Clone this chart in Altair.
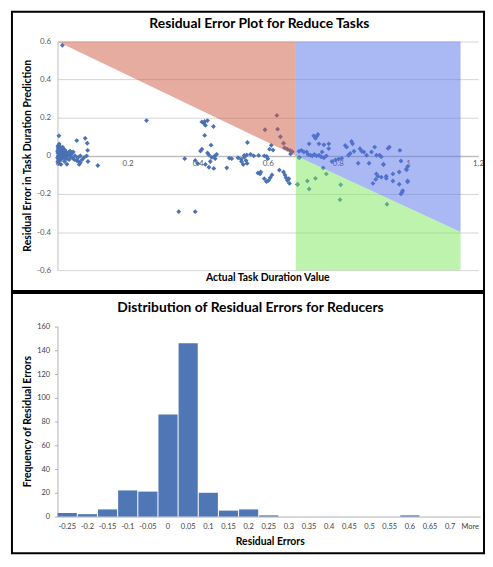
import altair as alt
import pandas as pd

# ---------------- data: residual scatter ----------------
near_zero_x = [0.014, 0.004, 0.001, 0.002, 0.003, 0.004, 0.005, 0.006, 0.002, 0.003,
               0.001, 0.004, 0.007, 0.008, 0.009, 0.010, 0.011, 0.012, 0.008, 0.006,
               0.009, 0.013, 0.015, 0.016, 0.014, 0.018, 0.020, 0.022, 0.024, 0.019,
               0.017, 0.021, 0.025, 0.028, 0.030, 0.026, 0.003, 0.005, 0.001, 0.002,
               0.000, 0.000, 0.010, 0.012, 0.006, 0.015, 0.032, 0.035, 0.038, 0.040,
               0.020, 0.027, 0.045, 0.042, 0.050, 0.048, 0.055, 0.060, 0.065, 0.058,
               0.055, 0.062, 0.070, 0.075, 0.065, 0.079, 0.085, 0.086, 0.083, 0.087,
               0.115, 0.010, 0.033, 0.036]
near_zero_y = [0.58, 0.105, 0.05, 0.04, 0.03, 0.02, 0.01, 0.0, -0.01, -0.02,
               -0.03, -0.04, 0.045, 0.035, 0.025, 0.015, 0.005, -0.005, -0.015, -0.025,
               0.03, 0.02, 0.01, 0.0, -0.01, 0.025, 0.015, 0.005, -0.005, -0.012,
               0.035, 0.03, 0.02, 0.01, 0.0, -0.015, 0.055, 0.062, 0.015, 0.0,
               0.025, -0.01, -0.02, 0.04, 0.05, 0.045, 0.015, 0.005, -0.005, 0.01,
               -0.03, -0.044, 0.02, -0.01, 0.0, -0.02, -0.025, -0.03, -0.035, -0.01,
               0.08, -0.045, -0.02, -0.01, 0.0, 0.092, 0.066, 0.029, 0.0, -0.03,
               -0.051, -0.045, -0.02, 0.025]

mid_x = [0.254, 0.346, 0.393, 0.363, 0.393, 0.408, 0.412, 0.412, 0.420, 0.428,
         0.422, 0.418, 0.445, 0.420, 0.438, 0.428, 0.432, 0.440, 0.448, 0.454,
         0.450, 0.400, 0.422, 0.432, 0.446, 0.436, 0.483, 0.490, 0.497, 0.515,
         0.524, 0.533, 0.538, 0.541, 0.533, 0.540, 0.551, 0.542, 0.574, 0.590,
         0.597, 0.592, 0.605, 0.610, 0.626, 0.628, 0.636, 0.645, 0.648, 0.656,
         0.664, 0.670, 0.665, 0.600, 0.572, 0.578, 0.580, 0.590, 0.596, 0.602,
         0.607, 0.612, 0.633, 0.645, 0.649, 0.652, 0.656, 0.662, 0.660, 0.685,
         0.690, 0.525, 0.530, 0.560, 0.615]
mid_y = [0.185, -0.293, -0.293, -0.015, -0.024, 0.025, 0.035, 0.178, 0.18, 0.185,
         0.16, 0.17, 0.154, 0.107, 0.056, 0.015, 0.005, -0.008, -0.002, 0.008,
         -0.015, -0.04, -0.045, -0.06, -0.066, -0.03, -0.063, -0.012, -0.015, -0.01,
         -0.018, -0.008, -0.025, -0.04, 0.002, 0.005, 0.008, 0.07, 0.002, 0.0,
         -0.003, 0.137, 0.035, 0.055, 0.212, 0.14, 0.10, 0.066, 0.042, 0.035,
         0.028, 0.022, 0.01, -0.015, -0.09, -0.095, -0.085, -0.12, -0.135, -0.13,
         -0.115, -0.10, -0.075, -0.085, -0.10, -0.115, -0.13, -0.145, -0.12, -0.151,
         -0.01, -0.03, -0.045, 0.0, 0.03]

right_x = [0.731, 0.739, 0.743, 0.736, 0.718, 0.746, 0.760, 0.774, 0.774, 0.689,
           0.696, 0.703, 0.711, 0.715, 0.722, 0.727, 0.733, 0.739, 0.746, 0.752,
           0.755, 0.760, 0.767, 0.783, 0.793, 0.802, 0.811, 0.821, 0.825, 0.839,
           0.842, 0.846, 0.835, 0.830, 0.858, 0.863, 0.868, 0.874, 0.882, 0.889,
           0.896, 0.905, 0.910, 0.919, 0.924, 0.930, 0.947, 0.977, 0.980, 0.999,
           0.996, 0.910, 0.914, 0.924, 0.938, 0.938, 0.957, 0.957, 0.975, 0.975,
           0.985, 0.983, 0.999, 0.999, 0.900, 0.908, 0.689, 0.713, 0.718, 0.736,
           0.758, 0.767, 0.685, 0.808, 0.806, 0.940, 0.943, 0.930, 0.980, 0.995]
right_y = [0.105, 0.102, 0.112, 0.092, 0.063, 0.063, 0.058, 0.063, 0.038, 0.024,
           0.029, 0.02, 0.02, 0.007, 0.003, 0.0, 0.007, 0.0, 0.003, -0.005,
           0.02, -0.01, 0.0, -0.03, -0.022, -0.017, -0.013, 0.054, 0.046, 0.075,
           0.063, 0.024, 0.012, 0.003, -0.039, 0.037, 0.024, 0.02, 0.003, -0.039,
           0.02, 0.046, 0.003, 0.003, -0.005, -0.044, 0.046, 0.029, -0.027, -0.056,
           -0.073, -0.095, -0.107, -0.112, -0.107, -0.118, -0.095, -0.132, -0.085, -0.149,
           -0.183, -0.191, -0.132, -0.137, -0.145, -0.124, -0.01, -0.132, -0.174, -0.118,
           -0.064, -0.095, -0.149, -0.152, -0.23, -0.254, 0.039, -0.046, -0.2, -0.07]

# region boundaries (red over-estimate, blue, green)
region_names = ["red", "blue", "green"]
region_x = [[0.0, 0.68], [0.68, 1.15], [0.68, 1.15]]
region_y = [[0.6, 0.0], [0.0, -0.4], [-0.6, -0.6]]
region_y2 = [[0.6, 0.6], [0.6, 0.6], [0.0, -0.4]]
region_colors = ["#cf5a42", "#5673ea", "#7ce85c"]

# ---------------- data: histogram ----------------
hist_bins = ["-0.25", "-0.2", "-0.15", "-0.1", "-0.05", "0", "0.05", "0.1", "0.15", "0.2",
             "0.25", "0.3", "0.35", "0.4", "0.45", "0.5", "0.55", "0.6", "0.65", "0.7", "More"]
hist_counts = [3, 2, 6, 22, 21, 86, 146, 20, 5, 6,
               1, 0, 0, 0, 0, 0, 0, 1, 0, 0, 0]

FONT = "Lato"
LABEL = "#595959"
W1, H1 = 425, 231
W2, H2 = 427, 192

scatter_df = pd.DataFrame({
    "x": near_zero_x + mid_x + right_x,
    "y": near_zero_y + mid_y + right_y,
})
rows = []
for name, xs, ys, y2s in zip(region_names, region_x, region_y, region_y2):
    for a, b, c in zip(xs, ys, y2s):
        rows.append({"region": name, "x": a, "y": b, "y2": c})
region_df = pd.DataFrame(rows)
one = alt.Data(values=[{"k": 1}])

lab_expr = "'' + datum.value"
xscale = alt.Scale(domain=[0, 1.2], nice=False, zero=False)
yscale = alt.Scale(domain=[-0.6, 0.6], nice=False, zero=False)
xaxis = alt.Axis(values=[0, 0.2, 0.4, 0.6, 0.8, 1.0, 1.2], offset=-H1 / 2, title=None,
                 labelExpr=lab_expr, labelFlush=False, labelFont=FONT, labelFontSize=8,
                 labelColor=LABEL, tickSize=0, labelPadding=4, domainColor="#b0b0b0",
                 grid=False)
yaxis = alt.Axis(values=[-0.6, -0.4, -0.2, 0, 0.2, 0.4, 0.6], title=None,
                 labelExpr=lab_expr, labelFont=FONT, labelFontSize=8, labelColor=LABEL,
                 tickSize=0, labelPadding=7, domainColor="#c0c0c0", grid=True,
                 gridColor="#d4d4d4", gridWidth=1)

points = alt.Chart(scatter_df).mark_point(shape="diamond", filled=True, size=24,
                                          color="#4a71b3", opacity=1).encode(
    x=alt.X("x:Q", scale=xscale, axis=xaxis),
    y=alt.Y("y:Q", scale=yscale, axis=yaxis),
)
regions = alt.Chart(region_df).mark_area(opacity=0.5, interpolate="linear").encode(
    x=alt.X("x:Q", scale=xscale, axis=xaxis),
    y=alt.Y("y:Q", scale=yscale, axis=yaxis),
    y2="y2:Q",
    color=alt.Color("region:N", scale=alt.Scale(domain=region_names, range=region_colors),
                    legend=None),
    detail="region:N",
)


def txt(s, x, y, size, angle=0, weight="bold"):
    return alt.Chart(one).mark_text(text=s, font=FONT, fontSize=size, fontWeight=weight,
                                    color="black", align="center", baseline="middle",
                                    angle=angle).encode(x=alt.value(x), y=alt.value(y))


def border(top, bottom):
    return alt.Chart(one).mark_rect(fill="white", fillOpacity=0, stroke="black",
                                    strokeWidth=2).encode(
        x=alt.value(-46), x2=alt.value(431), y=alt.value(top), y2=alt.value(bottom))


top = alt.layer(
    points, regions,
    txt("Residual Error Plot for Reduce Tasks", 204, -18, 14),
    txt("Residual Error in Task Duration Prediction", -30, H1 / 2, 10.5, angle=270),
    txt("Actual Task Duration Value", W1 / 2, H1 + 8, 10.5),
    border(-30, H1 + 21),
).properties(width=W1, height=H1)

bars = alt.Chart(pd.DataFrame({"bin": hist_bins, "count": hist_counts})).mark_bar(
    color="#4f76b5").encode(
    x=alt.X("bin:N", sort=hist_bins,
            scale=alt.Scale(paddingInner=0.05, paddingOuter=0.01),
            axis=alt.Axis(title=None, labelAngle=0, labelFont=FONT, labelFontSize=7.5,
                          labelColor="#404040", tickSize=0, labelPadding=6,
                          domainColor="#b0b0b0")),
    y=alt.Y("count:Q", scale=alt.Scale(domain=[0, 160], nice=False),
            axis=alt.Axis(title=None, values=[0, 20, 40, 60, 80, 100, 120, 140, 160],
                          labelFont=FONT, labelFontSize=7.5, labelColor="#404040",
                          tickSize=3, tickColor="#b0b0b0", labelPadding=5,
                          domainColor="#b0b0b0", grid=False)),
)

bottom = alt.layer(
    bars,
    txt("Distribution of Residual Errors for Reducers", 195, -19, 14),
    txt("Frequency of Residual Errors", -30, H2 / 2, 10.5, angle=270),
    txt("Residual Errors", 215, H2 + 26, 10.5),
    border(-34, H2 + 37),
).properties(width=W2, height=H2)

chart = alt.vconcat(top, bottom, spacing=0).configure_view(stroke=None).properties(
    padding={"left": 3, "top": 0, "right": 0, "bottom": 0}, background="white")

chart.save("out.html", embed_options={"renderer": "svg", "actions": False})
